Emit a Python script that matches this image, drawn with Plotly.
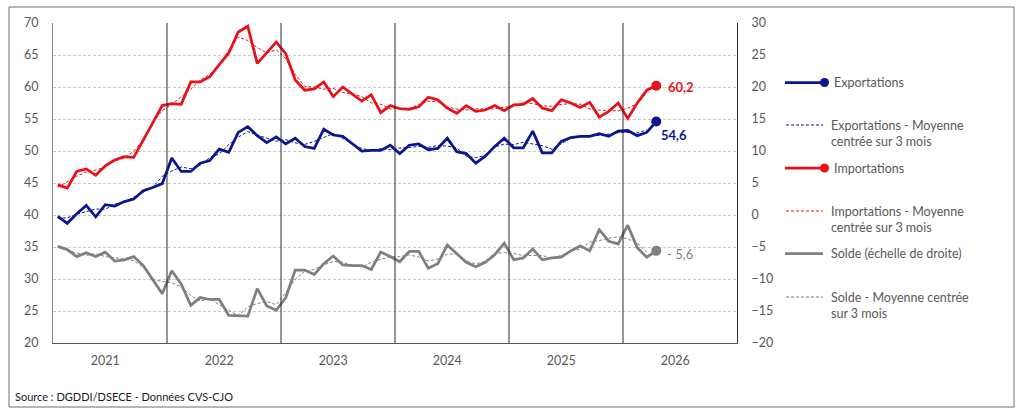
import plotly.graph_objects as go

# ---------------- data (monthly, Jan 2021 - Apr 2026) ----------------
years = ["2021", "2022", "2023", "2024", "2025", "2026"]

exports = [39.8, 38.7, 40.2, 41.5, 39.7, 41.6, 41.4, 42.1, 42.5, 43.8, 44.3, 44.9,
           48.9, 46.8, 46.8, 48.1, 48.5, 50.3, 49.8, 52.9, 53.8, 52.4, 51.3, 52.2,
           51.1, 52.0, 50.7, 50.4, 53.4, 52.5, 52.3, 51.1, 50.0, 50.1, 50.1, 50.9,
           49.6, 50.9, 51.1, 50.2, 50.4, 52.0, 49.9, 49.6, 48.1, 49.2, 50.7, 52.0,
           50.5, 50.5, 53.1, 49.7, 49.7, 51.5, 52.1, 52.3, 52.3, 52.7, 52.3, 53.1,
           53.2, 52.4, 52.9, 54.6]

imports = [44.7, 44.2, 46.8, 47.2, 46.2, 47.7, 48.6, 49.1, 49.0, 51.8, 54.4, 57.1,
           57.4, 57.3, 60.8, 60.8, 61.6, 63.5, 65.3, 68.6, 69.5, 63.7, 65.3, 67.0,
           65.2, 61.1, 59.5, 59.7, 60.8, 58.5, 60.0, 58.9, 57.8, 58.8, 56.0, 57.1,
           56.6, 56.5, 56.9, 58.4, 58.0, 56.7, 55.9, 57.1, 56.2, 56.4, 57.1, 56.3,
           57.2, 57.3, 58.2, 56.7, 56.3, 58.0, 57.5, 56.8, 57.6, 55.3, 56.2, 57.5,
           55.1, 57.5, 59.5, 60.2]

solde = [-4.9, -5.4, -6.5, -5.9, -6.5, -5.8, -7.2, -7.0, -6.5, -7.9, -10.1, -12.3,
         -8.7, -10.8, -14.1, -12.9, -13.2, -13.2, -15.7, -15.7, -15.8, -11.5, -14.2, -14.9,
         -12.9, -8.6, -8.6, -9.3, -7.6, -6.4, -7.8, -7.9, -7.9, -8.5, -5.8, -6.5,
         -7.3, -5.7, -5.7, -8.3, -7.6, -4.7, -6.1, -7.4, -8.1, -7.4, -6.2, -4.4,
         -7.0, -6.7, -5.3, -7.0, -6.7, -6.6, -5.6, -4.8, -5.6, -2.3, -4.1, -4.5,
         -1.6, -5.1, -6.6, -5.6]

# centred 3-month moving averages (Jan 2021 - Mar 2026)
exports_ma = [39.5, 39.57, 40.13, 40.47, 40.93, 40.9, 41.7, 42.0, 42.8, 43.53, 44.33, 46.03,
              46.87, 47.5, 47.23, 47.8, 48.97, 49.53, 51.0, 52.17, 53.03, 52.5, 51.97, 51.53,
              51.77, 51.27, 51.03, 51.5, 52.1, 52.73, 51.97, 51.13, 50.4, 50.07, 50.37, 50.2,
              50.47, 50.53, 50.73, 50.57, 50.87, 50.77, 50.5, 49.2, 48.97, 49.33, 50.63, 51.07,
              51.0, 51.37, 51.1, 50.83, 50.3, 51.1, 51.97, 52.23, 52.43, 52.43, 52.7, 52.87,
              52.9, 52.83, 53.3]

imports_ma = [44.3, 45.23, 46.07, 46.73, 47.03, 47.5, 48.47, 48.9, 49.97, 51.73, 54.43, 56.3,
              57.27, 58.5, 59.63, 61.07, 61.97, 63.47, 65.8, 67.8, 67.27, 66.17, 65.33, 65.83,
              64.43, 61.93, 60.1, 60.0, 59.67, 59.77, 59.13, 58.9, 58.5, 57.53, 57.3, 56.57,
              56.73, 56.67, 57.27, 57.77, 57.7, 56.87, 56.57, 56.4, 56.57, 56.57, 56.6, 56.87,
              56.93, 57.57, 57.4, 57.07, 57.0, 57.27, 57.43, 57.3, 56.57, 56.37, 56.33, 56.27,
              56.7, 57.37, 59.07]

solde_ma = [-5.0, -5.6, -5.93, -6.3, -6.07, -6.5, -6.67, -6.9, -7.13, -8.17, -10.1, -10.37,
            -10.6, -11.2, -12.6, -13.4, -13.1, -14.03, -14.87, -15.73, -14.33, -13.83, -13.53, -14.0,
            -12.13, -10.03, -8.83, -8.5, -7.77, -7.27, -7.37, -7.87, -8.1, -7.4, -6.93, -6.53,
            -6.5, -6.23, -6.57, -7.2, -6.87, -6.13, -6.07, -7.2, -7.63, -7.23, -6.0, -5.87,
            -6.03, -6.33, -6.33, -6.33, -6.77, -6.3, -5.67, -5.33, -4.23, -4.0, -3.63, -3.4,
            -3.73, -4.43, -5.77]

# ---------------- styling ----------------
BLUE = "#0A1690"
RED = "#E8101A"
GREY = "#7F7F7F"
TXT = "#595959"
FONT = "Lato"

# plot area in pixels
L, R, T, B = 53, 737, 23, 343
W, H = 1024, 418


def px(x):
    return (x - L) / (R - L)


def py(y):
    return (B - y) / (B - T)


n = len(exports)
x = list(range(n))
x_ma = list(range(len(exports_ma)))

fig = go.Figure()

fig.add_trace(go.Scatter(x=x_ma, y=solde_ma, yaxis="y2", mode="lines",
                         line=dict(color=GREY, width=1, dash="3px,2px"), name="Solde - Moyenne centrée sur 3 mois"))
fig.add_trace(go.Scatter(x=x, y=solde, yaxis="y2", mode="lines",
                         line=dict(color=GREY, width=2.75), name="Solde (échelle de droite)"))
fig.add_trace(go.Scatter(x=x_ma, y=exports_ma, mode="lines",
                         line=dict(color=BLUE, width=1, dash="3px,2px"), name="Exportations - Moyenne centrée sur 3 mois"))
fig.add_trace(go.Scatter(x=x, y=exports, mode="lines",
                         line=dict(color=BLUE, width=2.75), name="Exportations"))
fig.add_trace(go.Scatter(x=x_ma, y=imports_ma, mode="lines",
                         line=dict(color=RED, width=1, dash="3px,2px"), name="Importations - Moyenne centrée sur 3 mois"))
fig.add_trace(go.Scatter(x=x, y=imports, mode="lines",
                         line=dict(color=RED, width=2.75), name="Importations"))

# end-point markers
fig.add_trace(go.Scatter(x=[x[-1]], y=[exports[-1]], mode="markers",
                         marker=dict(color=BLUE, size=10), showlegend=False))
fig.add_trace(go.Scatter(x=[x[-1]], y=[imports[-1]], mode="markers",
                         marker=dict(color=RED, size=10), showlegend=False))
fig.add_trace(go.Scatter(x=[x[-1]], y=[solde[-1]], yaxis="y2", mode="markers",
                         marker=dict(color=GREY, size=10), showlegend=False))


def fr(v):
    return f"{v:.1f}".replace(".", ",")


annotations = [
    dict(x=x[-1], y=imports[-1], xref="x", yref="y", text=f"<b>{fr(imports[-1])}</b>",
         showarrow=False, xanchor="left", yanchor="middle", xshift=10, yshift=-1,
         font=dict(family=FONT, size=13, color=RED)),
    dict(x=x[-1], y=exports[-1], xref="x", yref="y", text=f"<b>{fr(exports[-1])}</b>",
         showarrow=False, xanchor="left", yanchor="middle", xshift=3, yshift=-13,
         font=dict(family=FONT, size=13, color=BLUE)),
    dict(x=x[-1], y=solde[-1], xref="x", yref="y2",
         text="- " + fr(abs(solde[-1])) if solde[-1] < 0 else fr(solde[-1]),
         showarrow=False, xanchor="left", yanchor="middle", xshift=9, yshift=-3,
         font=dict(family=FONT, size=13, color=GREY)),
    dict(x=px(13), y=py(396), xref="paper", yref="paper", text="Source : DGDDI/DSECE - Données CVS-CJO",
         showarrow=False, xanchor="left", yanchor="middle",
         font=dict(family=FONT, size=11, color="#1a1a1a")),
]

shapes = [
    # outer frame
    dict(type="rect", xref="paper", yref="paper", x0=px(9), x1=px(1014), y0=py(407), y1=py(7),
         line=dict(color="#6e6e6e", width=1), layer="below"),
]
# year separators
for k in range(1, 6):
    shapes.append(dict(type="line", xref="x", yref="paper", x0=12 * k - 0.5, x1=12 * k - 0.5,
                       y0=0, y1=1, line=dict(color="#2b2b2b", width=1)))

# custom legend
legend_items = [
    ("Exportations", BLUE, "solid", True, 82.5, 832),
    ("Exportations - Moyenne<br>centrée sur 3 mois", BLUE, "dash", False, 125, 829),
    ("Importations", RED, "solid", True, 168, 832),
    ("Importations - Moyenne<br>centrée sur 3 mois", RED, "dash", False, 211, 829),
    ("Solde (échelle de droite)", GREY, "solid", False, 253.5, 829),
    ("Solde - Moyenne centrée<br>sur 3 mois", GREY, "dash", False, 297, 829),
]
for text, col, style, dot, yy, tx in legend_items:
    if style == "solid":
        shapes.append(dict(type="line", xref="paper", yref="paper", x0=px(785), x1=px(823),
                           y0=py(yy), y1=py(yy), line=dict(color=col, width=2.75)))
    else:
        shapes.append(dict(type="line", xref="paper", yref="paper", x0=px(786), x1=px(823),
                           y0=py(yy), y1=py(yy), line=dict(color=col, width=1, dash="3px,2px")))
    if dot:
        shapes.append(dict(type="circle", xref="paper", yref="paper", x0=px(820), x1=px(829),
                           y0=py(yy + 4.5), y1=py(yy - 4.5), fillcolor=col, line=dict(color=col, width=0)))
    two = "<br>" in text
    annotations.append(dict(x=px(tx), y=py(yy + (8.3 if two else 0)), xref="paper", yref="paper",
                            text=text, showarrow=False, xanchor="left", yanchor="middle", align="left",
                            font=dict(family=FONT, size=12.5, color=TXT)))

fig.update_layout(
    width=W, height=H,
    margin=dict(l=L, r=W - R, t=T, b=H - B),
    paper_bgcolor="white", plot_bgcolor="white",
    showlegend=False,
    font=dict(family=FONT, size=12.5, color=TXT),
    xaxis=dict(range=[-0.5, 71.5], tickmode="array", tickvals=[5 + 12 * k for k in range(len(years))],
               ticktext=years, showgrid=False, zeroline=False, ticks="outside", ticklen=6,
               tickcolor="rgba(0,0,0,0)", showline=True, linecolor="#595959", linewidth=1.2,
               tickfont=dict(family=FONT, size=12.5, color=TXT)),
    yaxis=dict(range=[20, 70], dtick=5, tick0=20, showgrid=True, gridcolor="#c8c8c8", griddash="3px,2px",
               gridwidth=1, zeroline=False, showline=True, linecolor="#8a8a8a", linewidth=1.2,
               ticks="", ticklabelstandoff=11, tickfont=dict(family=FONT, size=12.5, color=TXT)),
    yaxis2=dict(range=[-20, 30], dtick=5, tick0=-20, overlaying="y", side="right", showgrid=False,
                zeroline=False, showline=True, linecolor="#2b2b2b", linewidth=1.2, ticks="",
                ticklabelstandoff=11, tickfont=dict(family=FONT, size=12.5, color=TXT)),
    shapes=shapes,
    annotations=annotations,
)

fig.write_html("out.html")
